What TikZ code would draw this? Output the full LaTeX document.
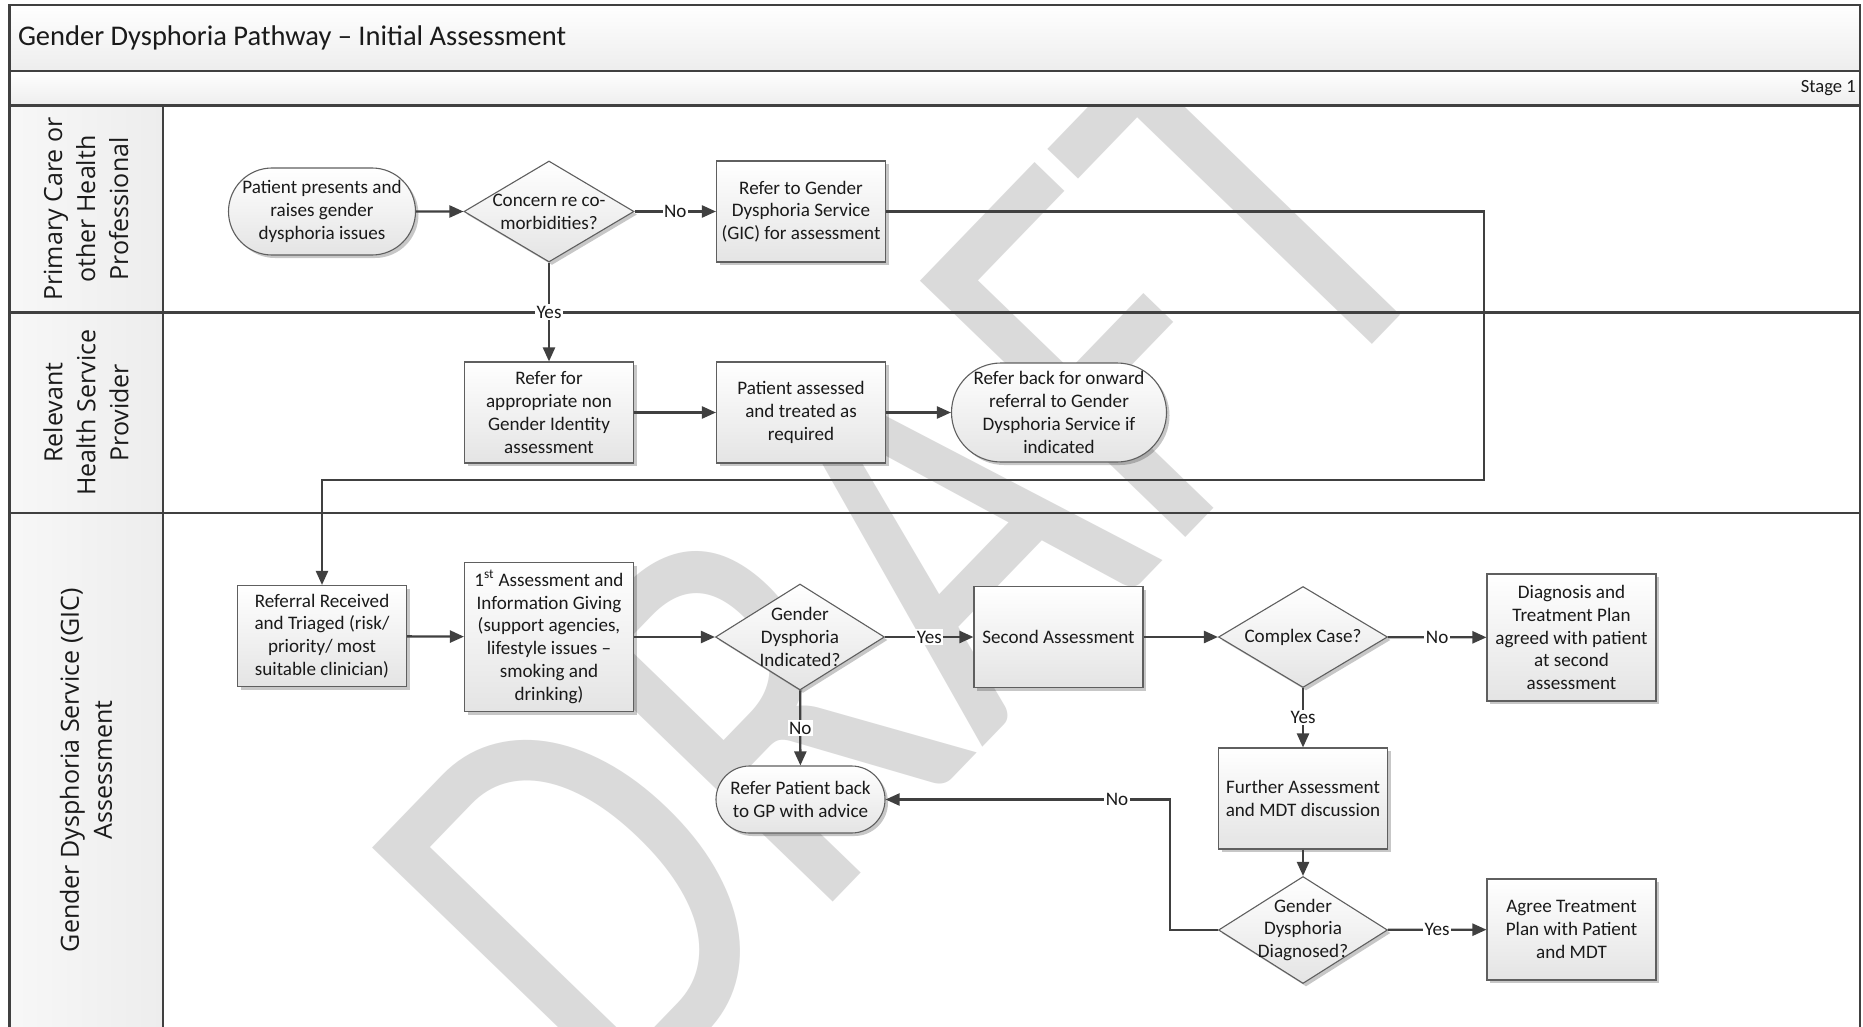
\documentclass[tikz,border=0pt]{standalone}
\usepackage{fontspec}
\setmainfont{Carlito}
\newfontfamily\lanefont{Open Sans}
\usetikzlibrary{shapes.geometric,shapes.misc,arrows.meta,shadows}
\definecolor{linec}{HTML}{404040}
\definecolor{borderc}{HTML}{5F5F5F}
\definecolor{wmc}{HTML}{DADADA}
\definecolor{fillbot}{HTML}{E4E4E4}
\definecolor{hdrbot}{HTML}{EDEDED}
\definecolor{txtc}{HTML}{1A1A1A}
\tikzset{
  wmark/.style={rotate=46, anchor=base west, inner sep=0pt, text=wmc, font=\fontsize{575}{600}\selectfont},
  box/.style={draw=borderc, line width=1.1pt, top color=white, bottom color=fillbot,
    drop shadow={shadow xshift=3pt, shadow yshift=-3pt, fill=black, opacity=0.22},
    font=\fontsize{19.1}{22.8}\selectfont, align=center, inner sep=0pt, text=txtc},
  proc/.style={box, rectangle, minimum width=169pt, minimum height=101pt},
  term/.style={box, rounded rectangle},
  decision/.style={box, diamond, minimum width=169pt, minimum height=101pt},
  dtext/.style={font=\fontsize{19.1}{22.8}\selectfont, align=center, inner sep=0pt, text=txtc},
  conn/.style={draw=linec, line width=2.3pt, -{Triangle[length=14pt,width=12pt]}},
  lbl/.style={fill=white, inner sep=1.5pt, font=\fontsize{19.1}{21}\selectfont, text=txtc},
  lanetext/.style={rotate=90, font=\lanefont\fontsize{25}{33}\selectfont, align=center, text=txtc},
  lanerule/.style={draw=linec, line width=2.4pt},
}
\begin{document}
\begin{tikzpicture}[x=1pt,y=-1pt]
\useasboundingbox (0,0) rectangle (1863,1027);
\clip (0,0) rectangle (1863,1027);
\fill[white] (0,0) rectangle (1863,1027);
% watermark
\begin{scope}
  \clip (162.8,105.7) rectangle (1860,1027);
  \node[wmark] (wm) at (616,1127) {\scalebox{0.79}[1]{DRAFT}};
\end{scope}
% header fills
\shade[top color=white, bottom color=hdrbot] (9.5,4.75) rectangle (1860,71.3);
\shade[top color=white, bottom color=hdrbot] (9.5,71.3) rectangle (1860,105.7);
\shade[left color=white!97!black, right color=hdrbot] (9.5,105.7) rectangle (162.8,1030);
% frame and lanes
\draw[lanerule] (9.5,4.75) rectangle (1860,1030);
\draw[lanerule] (9.5,71.3) -- (1860,71.3);
\draw[lanerule] (9.5,105.7) -- (1860,105.7);
\draw[lanerule] (9.5,312.4) -- (1860,312.4);
\draw[lanerule] (9.5,513) -- (1860,513);
\draw[lanerule] (162.8,105.7) -- (162.8,1030);
% titles
\node[anchor=west, font=\fontsize{28.5}{32}\selectfont, text=txtc, inner sep=0pt] (title) at (17.8,38) {Gender Dysphoria Pathway – Initial Assessment};
\node[anchor=east, font=\fontsize{18.6}{21}\selectfont, text=txtc, inner sep=0pt] (stage) at (1856,88.5) {Stage 1};
\node[lanetext] (lane1) at (86,209) {Primary Care or\\other Health\\Professional};
\node[lanetext] (lane2) at (86,412.7) {Relevant\\Health Service\\Provider};
\node[lanetext] (lane3) at (86,770) {Gender Dysphoria Service (GIC)\\Assessment};
% nodes
\node[term, minimum width=187pt, minimum height=87pt] (n1) at (322,211.5) {Patient presents and\\raises gender\\dysphoria issues};
\node[decision, minimum width=170pt, label={[dtext]center:{Concern re co-\\morbidities?}}] (n2) at (549,211.5) {};
\node[proc] (n3) at (801,211.5) {Refer to Gender\\Dysphoria Service\\(GIC) for assessment};
\node[proc] (n4) at (549,412.5) {Refer for\\appropriate non\\Gender Identity\\assessment};
\node[proc] (n5) at (801,412.5) {Patient assessed\\and treated as\\required};
\node[term, minimum width=215pt, minimum height=99pt] (n6) at (1059,412.5) {Refer back for onward\\referral to Gender\\Dysphoria Service if\\indicated};
\node[proc] (n7) at (322,636) {Referral Received\\and Triaged (risk/\\priority/ most\\suitable clinician)};
\node[proc, minimum height=149pt] (n8) at (549,637) {1\textsuperscript{st} Assessment and\\Information Giving\\(support agencies,\\lifestyle issues –\\smoking and\\drinking)};
\node[decision, minimum height=106pt, label={[dtext]center:{Gender\\Dysphoria\\Indicated?}}] (n9) at (800,637) {};
\node[proc] (n10) at (1058.5,637) {Second Assessment};
\node[decision, label={[dtext]center:{Complex Case?}}] (n11) at (1303,637) {};
\node[proc, minimum height=127pt] (n12) at (1571.5,637.5) {Diagnosis and\\Treatment Plan\\agreed with patient\\at second\\assessment};
\node[term, minimum width=169pt, minimum height=67pt] (n13) at (800.5,799.5) {Refer Patient back\\to GP with advice};
\node[proc] (n14) at (1303,798.5) {Further Assessment\\and MDT discussion};
\node[decision, minimum height=107pt, label={[dtext]center:{Gender\\Dysphoria\\Diagnosed?}}] (n15) at (1303,930) {};
\node[proc] (n16) at (1571.5,929.5) {Agree Treatment\\Plan with Patient\\and MDT};
% connectors
\draw[conn] (n1) -- (n2);
\draw[conn] (n2) -- node[lbl]{No} (n3);
\draw[conn] (n2) -- node[lbl]{Yes} (n4);
\coordinate (r1) at (1484,480);
\draw[conn] (n3.east) -| (r1) -| (n7.north);
\draw[conn] (n4) -- (n5);
\draw[conn] (n5) -- (n6);
\draw[conn] (n7) -- (n8);
\draw[conn] (n8) -- (n9);
\draw[conn] (n9) -- node[lbl]{Yes} (n10);
\draw[conn] (n9) -- node[lbl]{No} (n13);
\draw[conn] (n10) -- (n11);
\draw[conn] (n11) -- node[lbl]{No} (n12);
\draw[conn] (n11) -- node[lbl]{Yes} (n14);
\draw[conn] (n14) -- (n15);
\draw[conn] (n15) -- node[lbl]{Yes} (n16);
\coordinate (r2) at (1170,930);
\draw[conn] (n15.west) -- (r2) |- node[lbl, pos=0.593]{No} (n13.east);
\end{tikzpicture}
\end{document}
